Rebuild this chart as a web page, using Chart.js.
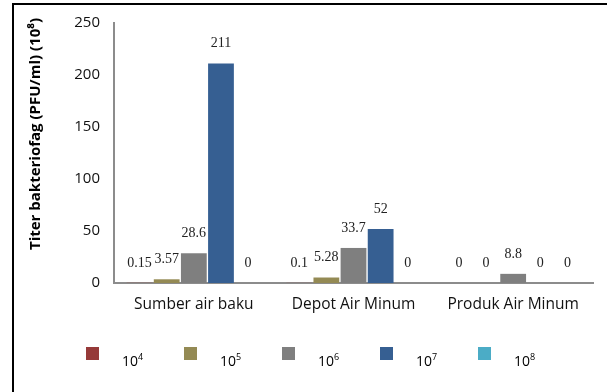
<!DOCTYPE html>
<html>
<head>
<meta charset="utf-8">
<script src="https://cdn.jsdelivr.net/npm/chart.js@4/dist/chart.umd.min.js"></script>
<style>
  html, body { margin: 0; padding: 0; background: #fff; }
  #wrap { position: relative; width: 607px; height: 392px; overflow: hidden; }
  #frame { position: absolute; left: 12px; top: 3px; width: 620px; height: 420px;
           border-top: 2px solid #000; border-left: 2px solid #000; }
  #chart { position: absolute; left: 0; top: 0; }
  #legend { position: absolute; left: 86px; top: 347px; display: flex;
            font-family: 'Open Sans', sans-serif; font-size: 14px; color: #000; }
  .item { width: 98px; display: flex; }
  .box { width: 13px; height: 13px; }
  .lbl { margin-left: 23px; margin-top: 3px; }
  .lbl sup { font-size: 9px; }
</style>
</head>
<body>
<div id="wrap">
  <div id="frame"></div>
  <canvas id="chart" width="607" height="392"></canvas>
  <div id="legend"></div>
</div>
<script>
const categories = ['Sumber air baku', 'Depot Air Minum', 'Produk Air Minum'];
const seriesExp = ['4', '5', '6', '7', '8'];
const seriesColors = ['#963a39', '#948a54', '#7f7f7f', '#365f92', '#4bacc6'];
const titer1e4 = [0.15, 0.1, 0];
const titer1e5 = [3.57, 5.28, 0];
const titer1e6 = [28.6, 33.7, 8.8];
const titer1e7 = [211, 52, 0];
const titer1e8 = [0, 0, 0];
const yTicks = [0, 50, 100, 150, 200, 250];
const yTitle = 'Titer bakteriofag (PFU/ml) (10\u2078)';

const seriesValues = [titer1e4, titer1e5, titer1e6, titer1e7, titer1e8];

// value labels above bars
const valueLabels = {
  id: 'valueLabels',
  afterDatasetsDraw(chart) {
    const c = chart.ctx;
    c.save();
    c.font = '14px "Liberation Serif", serif';
    c.fillStyle = '#222';
    c.textAlign = 'center';
    c.textBaseline = 'middle';
    chart.data.datasets.forEach((ds, i) => {
      chart.getDatasetMeta(i).data.forEach((bar, j) => {
        c.fillText(String(ds.data[j]), bar.x, bar.y - 20);
      });
    });
    c.restore();
  }
};

// rotated y axis title
const yAxisTitle = {
  id: 'yAxisTitle',
  afterDraw(chart) {
    const c = chart.ctx;
    c.save();
    c.translate(36, 134);
    c.rotate(-Math.PI / 2);
    c.font = 'bold 15px "Open Sans", sans-serif';
    c.fillStyle = '#000';
    c.textAlign = 'center';
    c.textBaseline = 'middle';
    c.fillText(yTitle, 0, 0);
    c.restore();
  }
};

new Chart(document.getElementById('chart'), {
  type: 'bar',
  data: {
    labels: categories,
    datasets: seriesValues.map((vals, i) => ({
      label: '10' + seriesExp[i],
      data: vals,
      backgroundColor: seriesColors[i],
      categoryPercentage: 0.85,
      barPercentage: 0.95
    }))
  },
  options: {
    responsive: false,
    animation: false,
    layout: { padding: { top: 17, right: 14, left: 0, bottom: 0 } },
    plugins: { legend: { display: false }, tooltip: { enabled: false } },
    scales: {
      x: {
        grid: { display: false, drawTicks: false },
        border: { color: '#8c8c8c', width: 2 },
        ticks: { color: '#111', padding: 12, font: { family: 'Open Sans', size: 15.5 } },
        afterFit: s => { s.height = 109; }
      },
      y: {
        min: 0,
        max: 250,
        afterBuildTicks: s => { s.ticks = yTicks.map(v => ({ value: v })); },
        grid: { display: false, drawTicks: false },
        border: { color: '#8c8c8c', width: 2 },
        ticks: { color: '#111', padding: 14, font: { family: 'Open Sans', size: 15 } },
        afterFit: s => { s.width = 114; }
      }
    }
  },
  plugins: [valueLabels, yAxisTitle]
});

const legend = document.getElementById('legend');
seriesExp.forEach((e, i) => {
  const item = document.createElement('div');
  item.className = 'item';
  item.innerHTML = '<div class="box" style="background:' + seriesColors[i] + '"></div>' +
    '<div class="lbl">10<sup>' + e + '</sup></div>';
  legend.appendChild(item);
});
</script>
</body>
</html>
